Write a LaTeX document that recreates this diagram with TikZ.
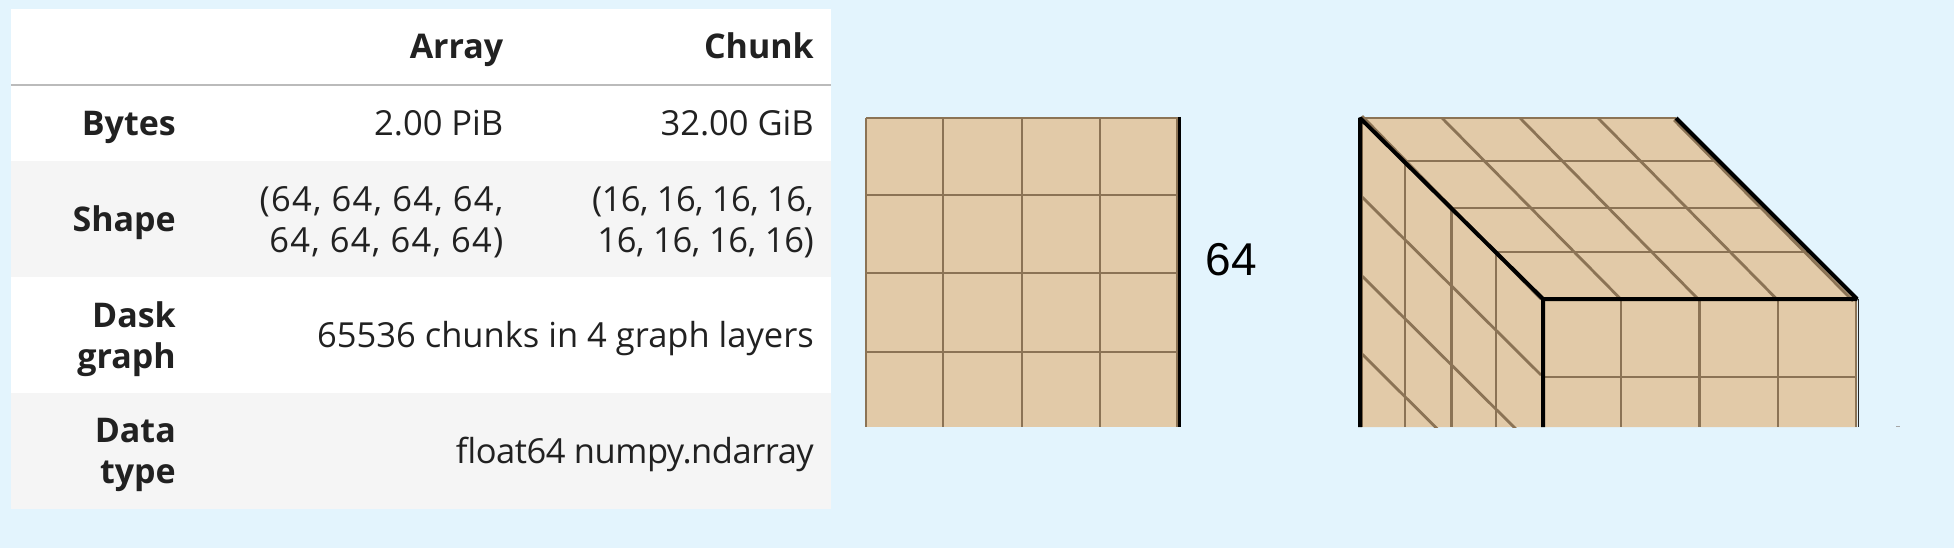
\documentclass[tikz,border=0pt]{standalone}
\usepackage{fontspec}
\setmainfont{Open Sans}
\newfontfamily\labelfont{Liberation Sans}
\definecolor{bgblue}{HTML}{E3F4FD}
\definecolor{rowgray}{HTML}{F5F5F5}
\definecolor{ruleg}{HTML}{BBBBBB}
\definecolor{inkc}{HTML}{212121}
\definecolor{tan}{HTML}{E2CAA8}
\definecolor{brownl}{HTML}{8B7355}
\tikzset{
 x=1pt,y=-1pt,
 cell/.style={anchor=east,inner sep=0pt,text=inkc,font=\fontsize{34.5}{41}\selectfont,align=right},
 head/.style={cell,font=\fontsize{34}{41}\selectfont\bfseries},
 gridl/.style={draw=brownl,line width=2.8pt},
 edgel/.style={draw=black,line width=4pt,line join=bevel},
}
\begin{document}
\begin{tikzpicture}
\useasboundingbox (0,0) rectangle (1954,548);
\fill[bgblue] (0,0) rectangle (1954,548);
% table
\fill[white] (11,9) rectangle (831,509);
\fill[rowgray] (11,161) rectangle (831,277);
\fill[rowgray] (11,393) rectangle (831,509);
\draw[ruleg,line width=2pt] (11,85) -- (831,85);
\node[head] (harray) at (503.5,50.8) {\strut Array};
\node[head] (hchunk) at (814,50.8) {\strut Chunk};
\node[head] (rbytes) at (176,127.8) {\strut Bytes};
\node[cell] (barray) at (503.5,127.8) {\strut 2.00 PiB};
\node[cell] (bchunk) at (814,127.8) {\strut 32.00 GiB};
\node[head] (rshape) at (176,223.3) {\strut Shape};
\node[cell] (sarray) at (503.5,223.5) {\addfontfeatures{LetterSpace=3.6}\strut (64, 64, 64, 64,\\\addfontfeatures{LetterSpace=3.6}\strut 64, 64, 64, 64)};
\node[cell] (schunk) at (814,223.5) {\addfontfeatures{LetterSpace=-1.7}\strut (16, 16, 16, 16,\\\addfontfeatures{LetterSpace=-1.0}\strut 16, 16, 16, 16)};
\node[head] (rdask) at (176,339.3) {\strut Dask\\\strut graph};
\node[cell] (dval) at (814,339.6) {\strut 65536 chunks in 4 graph layers};
\node[head] (rdata) at (176,455.1) {\strut Data\\\strut type};
\node[cell] (tval) at (814,455.3) {\addfontfeatures{LetterSpace=-1.4}\strut float64 numpy.ndarray};
% square
\begin{scope}
\clip (860,110) rectangle (1190,427);
\fill[tan] (866,118) rectangle (1178,427);
\foreach \x in {866,943,1022,1100,1177} \draw[gridl] (\x,118) -- (\x,427);
\foreach \y in {118,195,273,352} \draw[gridl] (866,\y) -- (1178,\y);
\draw[draw=black,line width=3pt] (1179.5,117) -- (1179.5,427);
\end{scope}
\node[inner sep=0pt,font=\labelfont\fontsize{46}{46}\selectfont,text=black] (lab) at (1231,260) {64};
% cube
\begin{scope}
\clip (1350,110) rectangle (1870,427);
\fill[tan] (1360,118) -- (1676,118) -- (1857,299) -- (1857,427) -- (1360,427) -- cycle;
% front face
\foreach \x in {1621,1699.5,1778,1856} \draw[gridl] (\x,299) -- (\x,427);
\draw[gridl] (1543,377) -- (1857,377);
% top face
\draw[gridl] (1360,118) -- (1676,118);
\draw[gridl] (1405,161) -- (1717,161);
\draw[gridl] (1451.6,208) -- (1763,208);
\draw[gridl] (1496,252) -- (1808,252);
\draw[gridl] (1442,118) -- (1620.6,299);
\draw[gridl] (1520,118) -- (1698,299);
\draw[gridl] (1598,118) -- (1776.6,299);
\draw[gridl] (1362,116) -- (1541,299);
\draw[gridl] (1674,120) -- (1853,301);
% left face
\draw[gridl] (1361.5,118) -- (1361.5,427);
\draw[gridl] (1405,161) -- (1405,427);
\draw[gridl] (1451.6,208) -- (1451.6,427);
\draw[gridl] (1496,252) -- (1496,427);
\draw[gridl] (1362,197) -- (1541,375);
\draw[gridl] (1362,276) -- (1541,454);
\draw[gridl] (1362,354) -- (1541,532);
% edges
\draw[edgel] (1360,427) -- (1360,118) -- (1543,299) -- (1543,427);
\draw[edgel] (1543,299) -- (1857,299) -- (1676,118);
\draw[draw=black!85,line width=1pt] (1858.5,299) -- (1858.5,427);
\end{scope}
\draw[black!35,line width=0.8pt] (1896,426.5) -- (1900,426.5);
\end{tikzpicture}
\end{document}
